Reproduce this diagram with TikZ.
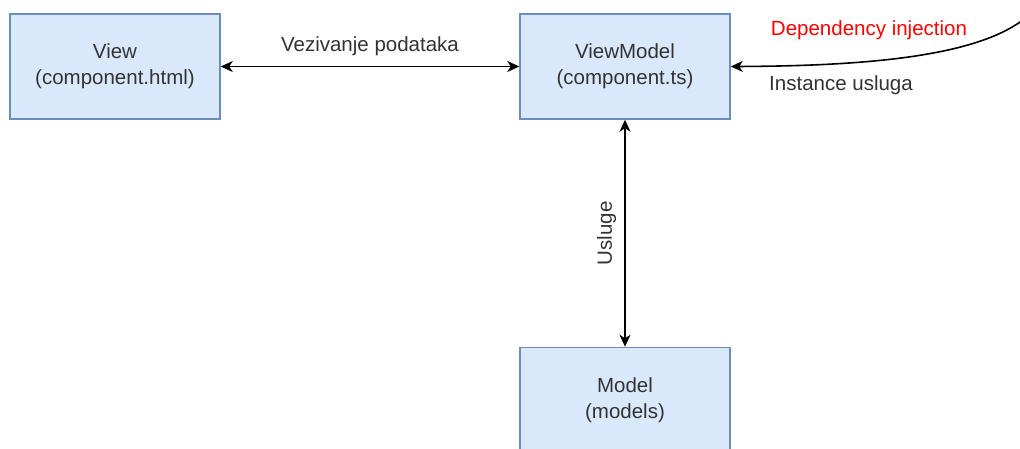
\documentclass[tikz,border=0pt]{standalone}
\usepackage{fontspec}
\setmainfont{Liberation Sans}
\usetikzlibrary{arrows.meta}
\definecolor{boxfill}{HTML}{DAE8FC}
\definecolor{boxline}{HTML}{6C8EBF}
\definecolor{txt}{HTML}{333333}
\definecolor{redtxt}{HTML}{FF0000}
\begin{document}
\begin{tikzpicture}[x=1pt,y=-1pt,
  box/.style={draw=boxline, fill=boxfill, line width=1.5pt, minimum width=210pt, minimum height=105pt, align=center, inner sep=0pt, text=txt, font=\fontsize{20.5}{26}\selectfont},
  lbl/.style={text=txt, font=\fontsize{20.5}{26}\selectfont, inner sep=0pt},
  conn/.style={line width=1.6pt, black},
  mytip/.tip={Stealth[length=12pt,width=11pt,inset=3.5pt]}]
\useasboundingbox (0,0) rectangle (1020,448);
\clip (0,0) rectangle (1020,448);
\node[box] (V) at (115,66.5) {View\\(component.html)};
\node[box] (VM) at (625,66.5) {ViewModel\\(component.ts)};
\node[box] (M) at (625,400) {Model\\(models)};
\coordinate (S) at (1030,14);
\draw[conn, mytip-mytip] (V.east) -- node[lbl, above=10pt] {Vezivanje podataka} (VM.west);
\draw[conn, mytip-mytip] (VM.south) -- node[lbl, left=8pt, rotate=90, anchor=south] {Usluge} (M.north);
\draw[conn, -mytip] (S) .. controls (985,56) and (870,66) .. (VM.east);
\node[lbl, text=redtxt] (DI) at (869,30) {Dependency injection};
\node[lbl, anchor=west] (IU) at (769,85) {Instance usluga};
\end{tikzpicture}
\end{document}
